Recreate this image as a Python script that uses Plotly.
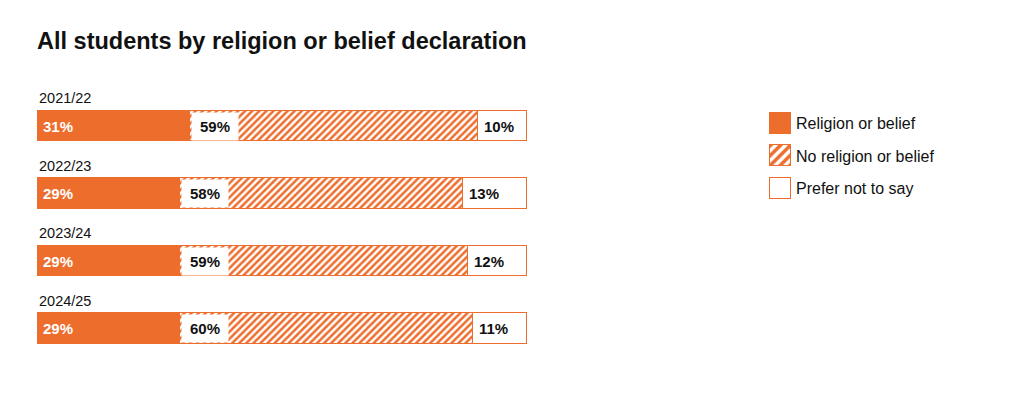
import plotly.graph_objects as go

# ---- data ----
years = ["2021/22", "2022/23", "2023/24", "2024/25"]
religion = [31, 29, 29, 29]
no_religion = [59, 58, 59, 60]
prefer_not = [10, 13, 12, 11]
legend_labels = ["Religion or belief", "No religion or belief", "Prefer not to say"]
title_text = "All students by religion or belief declaration"

# ---- style ----
ORANGE = "#ED6D2D"
TXT = "#111111"
FONT = "Liberation Sans, Arial, Helvetica, sans-serif"
W, H = 1024, 394
OFF = 8  # page body margin offset


def px(x):
    return (x - OFF) / W


def py(y):
    return 1 - (y - OFF) / H


HATCH = dict(shape="/", fgcolor=ORANGE, bgcolor="white", size=5,
             solidity=0.5, fillmode="replace")
HATCH_LEG = dict(shape="/", fgcolor=ORANGE, bgcolor="white", size=7,
                 solidity=0.5, fillmode="replace")

fig = go.Figure()

fig.add_trace(go.Bar(
    y=years, x=religion, orientation="h",
    marker=dict(color=ORANGE, line=dict(color=ORANGE, width=1)),
    width=0.45, hoverinfo="skip", showlegend=False,
))
fig.add_trace(go.Bar(
    y=years, x=no_religion, orientation="h",
    marker=dict(color="white", line=dict(color=ORANGE, width=1), pattern=HATCH),
    width=0.45, hoverinfo="skip", showlegend=False,
))
fig.add_trace(go.Bar(
    y=years, x=prefer_not, orientation="h",
    marker=dict(color="white", line=dict(color=ORANGE, width=1)),
    width=0.45, hoverinfo="skip", showlegend=False,
))

# legend drawn as small bars on a second axis pair
legend_styles = [
    dict(color=ORANGE, line=dict(color=ORANGE, width=1)),
    dict(color="white", line=dict(color=ORANGE, width=1), pattern=HATCH_LEG),
    dict(color="white", line=dict(color=ORANGE, width=1)),
]
for lab, mk in zip(legend_labels, legend_styles):
    fig.add_trace(go.Bar(
        y=[lab], x=[1], orientation="h", xaxis="x2", yaxis="y2",
        width=0.65, marker=mk, hoverinfo="skip", showlegend=False,
    ))

annotations = []
for yr, r, nr, pn in zip(years, religion, no_religion, prefer_not):
    annotations.append(dict(
        x=0, y=yr, xref="x", yref="y", text=yr, showarrow=False,
        xanchor="left", yanchor="middle", yshift=28, xshift=-1,
        font=dict(size=14.5, color=TXT, family=FONT),
    ))
    annotations.append(dict(
        x=0, y=yr, xref="x", yref="y", text=f"<b>{r}%</b>", showarrow=False,
        xanchor="left", yanchor="middle", xshift=3,
        font=dict(size=15, color="white", family=FONT),
    ))
    annotations.append(dict(
        x=r, y=yr, xref="x", yref="y", text=f"<b>{nr}%</b>", showarrow=False,
        xanchor="left", yanchor="middle", xshift=1,
        bgcolor="white", borderpad=4, width=38, height=19,
        font=dict(size=15, color=TXT, family=FONT),
    ))
    annotations.append(dict(
        x=r + nr, y=yr, xref="x", yref="y", text=f"<b>{pn}%</b>", showarrow=False,
        xanchor="left", yanchor="middle", xshift=4,
        font=dict(size=15, color=TXT, family=FONT),
    ))

pad = 100 / 489  # one pixel in data units, keeps bar outlines unclipped
lpad = 1 / 21

fig.update_layout(
    width=W, height=H,
    margin=dict(l=0, r=0, t=0, b=0),
    paper_bgcolor="white", plot_bgcolor="white",
    barmode="stack", bargap=0,
    font=dict(family=FONT, color=TXT, size=15),
    title=dict(text=f"<b>{title_text}</b>", x=px(37), xanchor="left",
               xref="paper", y=py(41), yanchor="middle", yref="paper",
               font=dict(size=23.5, color=TXT, family=FONT)),
    xaxis=dict(domain=[px(37), px(528)], range=[-pad, 100 + pad], visible=False,
               fixedrange=True),
    yaxis=dict(domain=[0, 1], type="category",
               range=[(H + OFF - 126) / 67.5, (OFF - 126) / 67.5],
               visible=False, fixedrange=True),
    xaxis2=dict(domain=[px(769), px(792)], range=[-lpad, 1 + lpad], visible=False,
                anchor="y2", fixedrange=True),
    yaxis2=dict(domain=[py(204.75), py(107.25)], type="category",
                categoryorder="array", categoryarray=legend_labels,
                autorange="reversed", anchor="x2", side="right",
                showgrid=False, zeroline=False, showline=False, ticks="",
                ticklabelstandoff=3,
                tickfont=dict(size=16, color=TXT, family=FONT),
                fixedrange=True),
    annotations=annotations,
    showlegend=False,
)

fig.write_html("out.html", config={"displayModeBar": False})
